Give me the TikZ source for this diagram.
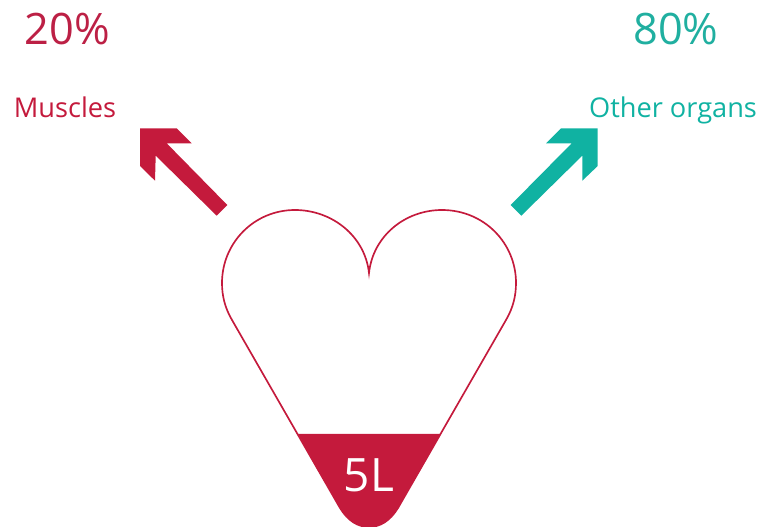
\documentclass[tikz,border=0pt]{standalone}
\usepackage{fontspec}
\setmainfont{Open Sans}
\definecolor{crim}{HTML}{C41A3C}
\definecolor{pcrim}{HTML}{BC2045}
\definecolor{teal2}{HTML}{10B2A2}
\definecolor{pteal}{HTML}{20AFA0}
\tikzset{
  px/.style={x=0.75pt,y=-0.75pt},
  lab/.style={inner sep=0pt,anchor=base},
}
\begin{document}
\begin{tikzpicture}[px]
\useasboundingbox (0,0) rectangle (761,527);
% left arrow
\fill[crim] (140,128.3) -- (176.7,128.3) -- (191.7,143.3) -- (166.7,143.3) -- (227.3,205) -- (216.7,215.7) -- (155.7,155.7) -- (155,180.7) -- (140,166) -- cycle;
% right arrow
\fill[teal2] (597.7,128.3) -- (561,128.3) -- (546,143.3) -- (571.7,143.3) -- (510.7,205) -- (521.3,215.7) -- (582.3,155.7) -- (582.3,180.7) -- (597.7,166) -- cycle;
% blood level
\fill[crim] (298,434) -- (441,434) -- (398,508) .. controls (390,521) and (380,527) .. (369,527) .. controls (358,527) and (348,521) .. (340,508) -- cycle;
% heart outline
\draw[crim,line width=1.25pt,line join=miter]
  (369,273) .. controls (365,236) and (332,210) .. (295,210)
  .. controls (254,210) and (222,243) .. (222,283)
  .. controls (222,296) and (225,308) .. (232,320)
  -- (340,508) .. controls (348,521) and (358,527) .. (369,527)
  .. controls (380,527) and (390,521) .. (398,508)
  -- (506,320) .. controls (513,308) and (516,296) .. (516,283)
  .. controls (516,243) and (484,210) .. (442,210)
  .. controls (405,210) and (373,236) .. (369,273) -- cycle;
\node[lab,text=pcrim,font=\fontsize{32.5}{33}\selectfont] (pa) at (67.5,45) {20\%};
\node[lab,text=pteal,font=\fontsize{32.5}{33}\selectfont] (pb) at (676,45) {80\%};
\node[lab,text=crim,font=\fontsize{20.4}{21}\selectfont] (ma) at (65,118) {Muscles};
\node[lab,text=teal2,font=\fontsize{20.4}{21}\selectfont] (mb) at (673,118) {Other organs};
\node[lab,text=white,font=\fontsize{34.5}{35}\selectfont] (vol) at (369,491) {5L};
\end{tikzpicture}
\end{document}
